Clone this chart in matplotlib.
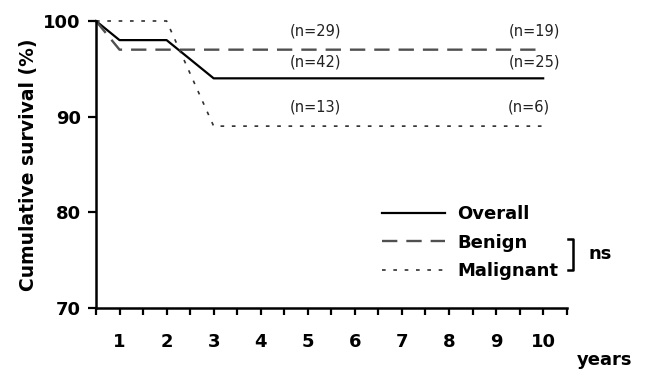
import matplotlib
matplotlib.use("Agg")
import matplotlib.pyplot as plt
from matplotlib.lines import Line2D

plt.rcParams["font.family"] = ["DejaVu Sans"]

# survival curves (years, cumulative survival %)
overall_x = [0.5, 1, 2, 3, 10]
overall_y = [100, 98, 98, 94, 94]
benign_x = [0.5, 1, 10]
benign_y = [100, 97, 97]
malignant_x = [0.5, 2, 3, 10]
malignant_y = [100, 100, 89, 89]

# numbers at risk
n_labels = ["(n=29)", "(n=19)", "(n=42)", "(n=25)", "(n=13)", "(n=6)"]
n_x = [5.16, 9.81, 5.16, 9.81, 5.16, 9.69]
n_y = [99.0, 99.0, 95.75, 95.75, 90.97, 90.97]

year_ticks = list(range(1, 11))

fig = plt.figure(figsize=(6.45, 3.69), dpi=100)
ax = fig.add_axes([0.1488, 0.1661, 0.7298, 0.777])

ax.plot(overall_x, overall_y, color="black", lw=1.6, clip_on=False, label="Overall")
ax.plot(benign_x, benign_y, color="#505050", lw=1.7, dashes=(6.5, 3.8),
        clip_on=False, label="Benign")
ax.plot(malignant_x, malignant_y, color="#303030", lw=1.2, dashes=(2.2, 4.6),
        clip_on=False, label="Malignant")

for lab, x, y in zip(n_labels, n_x, n_y):
    ax.text(x, y, lab, ha="center", va="center", fontsize=10.5, color="#222222")

ax.set_xlim(0.5, 10.5)
ax.set_ylim(70, 100)
ax.set_yticks([70, 80, 90, 100])
ax.set_xticks(year_ticks)
ax.set_xticks([v + 0.5 for v in range(0, 11)], minor=True)
for lab in ax.get_xticklabels() + ax.get_yticklabels():
    lab.set_fontweight("bold")
ax.tick_params(axis="y", length=6, width=1.6, labelsize=13, pad=5)
ax.tick_params(axis="x", which="both", length=5, width=1.6, labelsize=13, pad=13)

for s in ["top", "right"]:
    ax.spines[s].set_visible(False)
for s in ["left", "bottom"]:
    ax.spines[s].set_linewidth(1.8)

ax.set_ylabel("Cumulative survival (%)", fontsize=13.5, fontweight="bold", labelpad=4)
fig.text(0.937, 0.012, "years", fontsize=13, fontweight="bold", ha="center")

leg = ax.legend(loc="center left", bbox_to_anchor=(0.6076, 0.227), frameon=False,
                borderpad=0, borderaxespad=0,
                handlelength=3.5, handletextpad=0.65, labelspacing=0.58,
                prop={"weight": "bold", "size": 13})

# bracket for "ns"
bx = 1.013
ax.add_line(Line2D([bx - 0.011, bx, bx, bx - 0.011], [0.2396, 0.2396, 0.1315, 0.1315],
                   transform=ax.transAxes, color="black", lw=1.8, clip_on=False))
ax.text(bx + 0.034, 0.187, "ns", transform=ax.transAxes, fontsize=13,
        fontweight="bold", va="center")

fig.savefig("out.png", dpi=100)
